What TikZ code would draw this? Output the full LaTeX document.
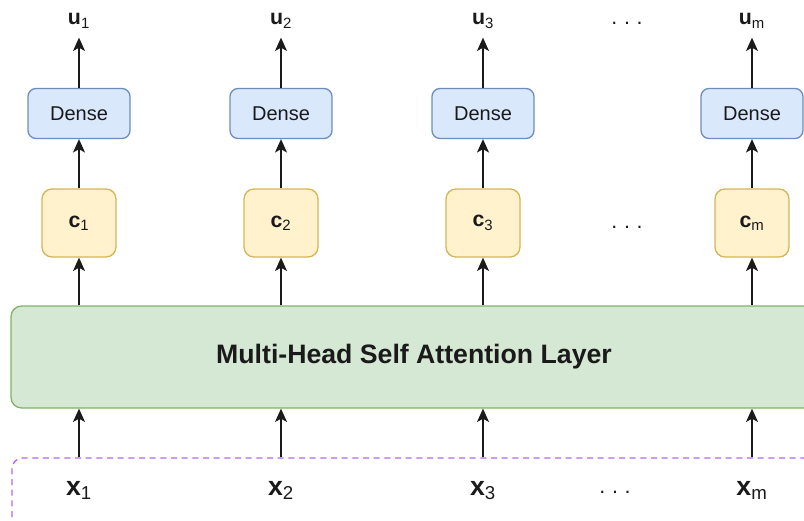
\documentclass[tikz,border=0pt]{standalone}
\usepackage{fontspec}
\setmainfont{Liberation Sans}
\usetikzlibrary{arrows.meta}

\definecolor{denseFill}{HTML}{DAE8FC}
\definecolor{denseLine}{HTML}{6C8EBF}
\definecolor{ctxFill}{HTML}{FFF2CC}
\definecolor{ctxLine}{HTML}{D6B656}
\definecolor{attnFill}{HTML}{D5E8D4}
\definecolor{attnLine}{HTML}{82B366}
\definecolor{inLine}{HTML}{B266FF}
\definecolor{ink}{HTML}{1A1A1A}

\tikzset{
  densebox/.style={draw=denseLine, fill=denseFill, line width=1pt,
    rounded corners=6pt, minimum width=76.5pt, minimum height=37.5pt,
    inner sep=0pt, font=\fontsize{15}{18}\selectfont, text=ink},
  ctxbox/.style={draw=ctxLine, fill=ctxFill, line width=1pt,
    rounded corners=7.5pt, minimum width=55.5pt, minimum height=51pt,
    inner sep=0pt, font=\fontsize{16}{19}\selectfont, text=ink},
  attnbox/.style={draw=attnLine, fill=attnFill, line width=1pt,
    rounded corners=8pt, minimum width=604.5pt, minimum height=76.5pt,
    inner sep=0pt, font=\bfseries\fontsize{20}{24}\selectfont, text=ink},
  inbox/.style={draw=inLine, dashed, dash pattern=on 4.5pt off 3.5pt,
    line width=1pt, rounded corners=8pt, minimum width=603.75pt,
    minimum height=76.5pt, inner sep=0pt},
  outlabel/.style={anchor=base, inner sep=0pt, text=ink,
    font=\fontsize{16}{19}\selectfont},
  inlabel/.style={anchor=base, inner sep=0pt, text=ink,
    font=\fontsize{20}{24}\selectfont},
  dotsl/.style={anchor=base, inner sep=0pt, text=ink,
    font=\fontsize{16}{19}\selectfont},
  flow/.style={draw=ink, line width=1pt,
    -{Stealth[length=10pt, width=9pt, inset=2.5pt]}},
}

\newcommand{\lab}[2]{{\bfseries #1}\textsubscript{#2}}

\begin{document}
\begin{tikzpicture}[x=0.75pt, y=-0.75pt]
\useasboundingbox (0,0) rectangle (804,521);
\clip (0,0) rectangle (804,521);

% input row (dashed frame, runs past the right and bottom edges)
\node[inbox] (in) at (414.5,509) {};
\node[inlabel] (x1) at (79,495) {\lab{x}{1}};
\node[inlabel] (x2) at (281,495) {\lab{x}{2}};
\node[inlabel] (x3) at (483,495) {\lab{x}{3}};
\node[inlabel] (xm) at (752,495) {\lab{x}{m}};
\node[dotsl] (xdots) at (615,493) {.\hspace{5pt}.\hspace{5pt}.};

% attention layer
\node[attnbox] (attn) at (414,357) {Multi-Head Self Attention Layer};

% context vectors
\node[ctxbox] (c1) at (79,223) {\lab{c}{1}};
\node[ctxbox] (c2) at (281,223) {\lab{c}{2}};
\node[ctxbox] (c3) at (483,223) {\lab{c}{3}};
\node[ctxbox] (cm) at (752,223) {\lab{c}{m}};
\node[dotsl] (cdots) at (627,228) {.\hspace{5pt}.\hspace{5pt}.};

% dense layers
\node[densebox] (d1) at (79,113.5) {Dense};
\node[densebox] (d2) at (281,113.5) {Dense};
\node[densebox] (d3) at (483,113.5) {Dense};
\node[densebox] (dm) at (752,113.5) {Dense};

% outputs
\node[outlabel] (u1) at (79,25) {\lab{u}{1}};
\node[outlabel] (u2) at (281,25) {\lab{u}{2}};
\node[outlabel] (u3) at (483,25) {\lab{u}{3}};
\node[outlabel] (um) at (752,25) {\lab{u}{m}};
\node[dotsl] (udots) at (627,24) {.\hspace{5pt}.\hspace{5pt}.};

% connectors
\foreach \x/\c/\d/\u in {x1/c1/d1/u1, x2/c2/d2/u2, x3/c3/d3/u3, xm/cm/dm/um}{
  \draw[flow] (in.north -| \c) -- (attn.south -| \c);
  \draw[flow] (attn.north -| \c) -- (\c.south);
  \draw[flow] (\c.north) -- (\d.south);
  \draw[flow] (\d.north) -- ([yshift=-9.5pt]\u.base -| \d.north);
}
\end{tikzpicture}
\end{document}
